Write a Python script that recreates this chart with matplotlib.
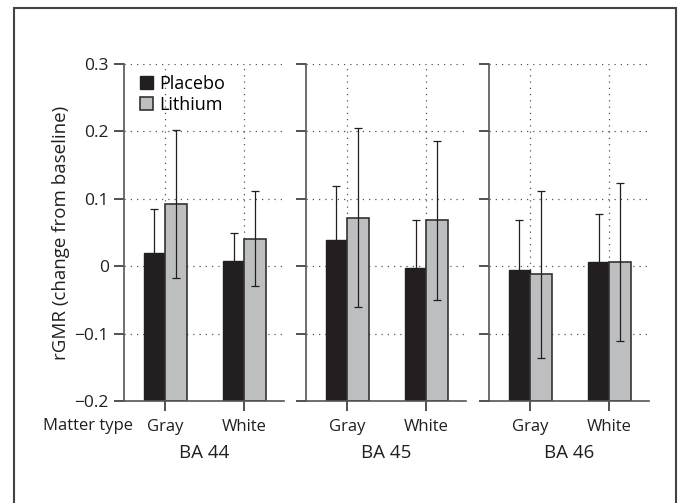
"""
rGMR change from baseline by Brodmann area and matter type, placebo vs lithium
"""
import matplotlib
matplotlib.use('Agg')
import matplotlib.pyplot as plt
import matplotlib.patches as patches
import numpy as np

plt.rcParams['font.family'] = ['Open Sans', 'DejaVu Sans']

regions = ['BA 44', 'BA 45', 'BA 46']
matter = ['Gray', 'White']

# means and error (symmetric) per region, [gray, white]
placebo_mean = [[0.019, 0.008], [0.039, -0.002], [-0.005, 0.006]]
placebo_err = [[0.066, 0.041], [0.080, 0.071], [0.074, 0.072]]
lithium_mean = [[0.092, 0.041], [0.072, 0.068], [-0.012, 0.006]]
lithium_err = [[0.110, 0.071], [0.133, 0.118], [0.124, 0.117]]

yticks = [-0.2, -0.1, 0, 0.1, 0.2, 0.3]
ytick_labels = ['\u22120.2', '\u22120.1', '0', '0.1', '0.2', '0.3']
ymin, ymax = -0.2, 0.3

W, H = 681, 503
fig = plt.figure(figsize=(W / 100, H / 100), dpi=100)

# outer frame
fig.patches.append(patches.Rectangle((14 / W, -0.05), (676 - 14) / W, 1.05 - 8 / H,
                                     transform=fig.transFigure, fill=False,
                                     edgecolor='#444444', linewidth=1.5))

lefts = [124, 306, 489]
bw = 0.27
x = np.arange(len(matter))

for i, reg in enumerate(regions):
    ax = fig.add_axes([lefts[i] / W, 1 - 401 / H, 160 / W, (401 - 64) / H])
    # bars rise from the bottom of the axis
    ax.bar(x - bw / 2, np.array(placebo_mean[i]) - ymin, bw, bottom=ymin,
           color='#231f20', edgecolor='#231f20', linewidth=1, zorder=2,
           label='Placebo')
    ax.bar(x + bw / 2, np.array(lithium_mean[i]) - ymin, bw, bottom=ymin,
           color='#bcbec0', edgecolor='#333333', linewidth=1.2, zorder=2,
           label='Lithium')
    ax.errorbar(x - bw / 2, placebo_mean[i], yerr=placebo_err[i], fmt='none',
                ecolor='#231f20', elinewidth=0.9, capsize=3, capthick=0.9, zorder=3)
    ax.errorbar(x + bw / 2, lithium_mean[i], yerr=lithium_err[i], fmt='none',
                ecolor='#231f20', elinewidth=0.9, capsize=3, capthick=0.9, zorder=3)

    ax.set_xlim(-0.52, 1.5)
    ax.set_ylim(ymin, ymax)
    ax.set_yticks(yticks)
    ax.set_xticks(x)
    ax.set_xticklabels(matter, fontsize=12, color='#231f20')
    if i == 0:
        ax.set_yticklabels(ytick_labels, fontsize=12.5, color='#231f20')
        ax.set_ylabel('rGMR (change from baseline)', fontsize=13.5, color='#231f20',
                      labelpad=3)
        ax.legend(loc='upper left', bbox_to_anchor=(0.03, 1.0), frameon=False,
                  fontsize=13, handlelength=0.75, handleheight=0.75,
                  handletextpad=0.35, labelspacing=0.15, borderaxespad=0.2)
    else:
        ax.set_yticklabels([])
    ax.set_xlabel(reg, fontsize=13.5, color='#231f20')
    ax.xaxis.set_label_coords(0.5, -0.128)

    ax.grid(True, linestyle=(0, (1, 4)), color='#555555', linewidth=0.9, zorder=0)
    ax.set_axisbelow(True)
    for s in ['top', 'right']:
        ax.spines[s].set_visible(False)
    for s in ['left', 'bottom']:
        ax.spines[s].set_color('#555555')
        ax.spines[s].set_linewidth(1.2)
    ax.tick_params(direction='out', length=7, width=1.2, color='#333333', pad=4)
    ax.tick_params(axis='x', pad=6)

fig.text(133 / W, 1 - 426 / H, 'Matter type', ha='right', va='center',
         fontsize=12, color='#231f20')

fig.savefig('out.png', dpi=100)
